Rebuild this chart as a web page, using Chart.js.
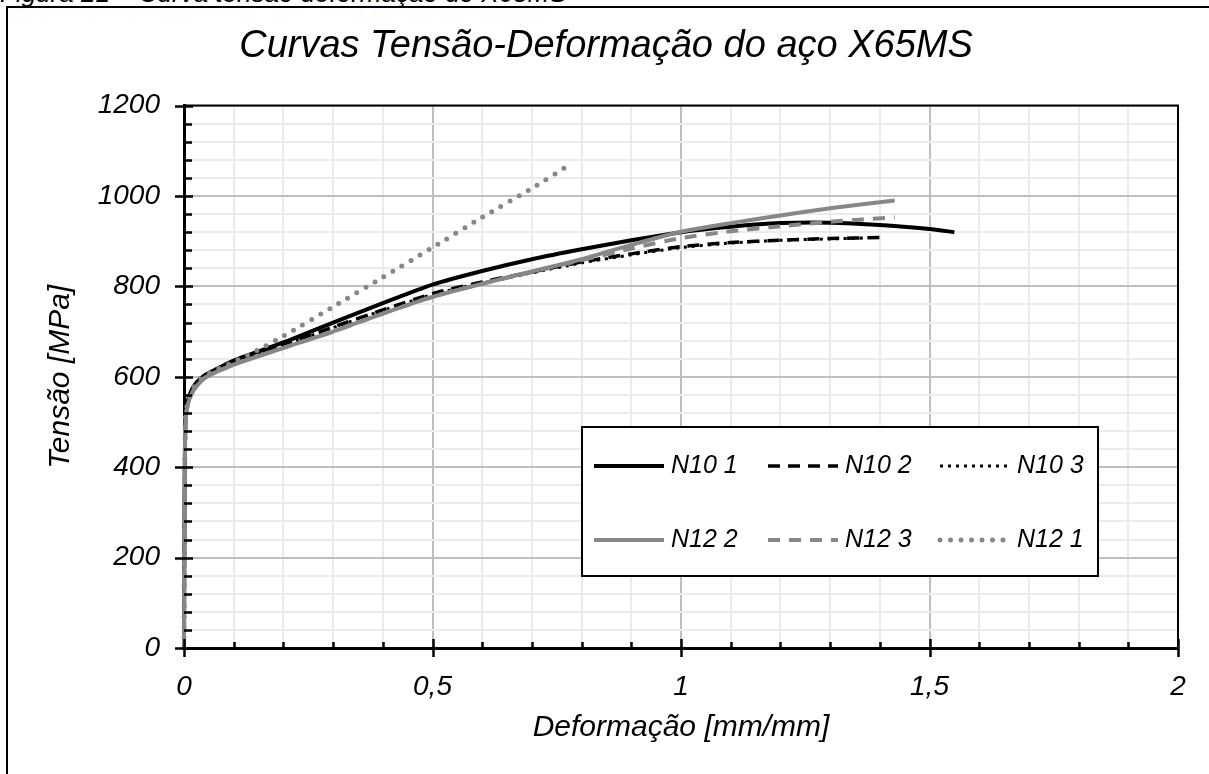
<!DOCTYPE html>
<html lang="pt">
<head>
    <meta charset="UTF-8">
    <title>Curvas Tensão-Deformação do aço X65MS</title>
    <script src="https://cdn.jsdelivr.net/npm/chart.js@4.4.0/dist/chart.umd.min.js"></script>
    <style>
        html, body { margin: 0; padding: 0; background: #fff; overflow: hidden; }
        body { width: 1209px; height: 774px; position: relative; }
        .caption { position: absolute; left: 0; top: -22px; line-height: 26px; font: italic 26px Arial, "Liberation Sans", sans-serif; color: #000; white-space: nowrap; }
        .frame { position: absolute; left: 6px; top: 6px; width: 1300px; height: 900px; border: 2px solid #000; }
        #chart { position: absolute; left: 0; top: 0; }
    </style>
</head>
<body>
    <div class="caption">Figura 21 – Curva tensão deformação do X65MS</div>
    <div class="frame"></div>
    <canvas id="chart" width="1209" height="774"></canvas>

    <script>
        // Dados (deformação em mm/mm, tensão em MPa)
        const seriesLabels = ['N10 1', 'N10 2', 'N10 3', 'N12 2', 'N12 3', 'N12 1'];

        const strainN10_1 = [0, 0.001, 0.003, 0.008, 0.02, 0.04, 0.06, 0.1, 0.2, 0.3, 0.4, 0.5, 0.6, 0.7, 0.8, 0.9, 1.0, 1.1, 1.2, 1.3, 1.4, 1.5, 1.55];
        const stressN10_1 = [0, 300, 512, 548, 580, 602, 614, 636, 676, 720, 763, 804, 834, 860, 882, 902, 920, 932, 940, 941, 936, 927, 920];

        const strainN10_2 = [0, 0.001, 0.003, 0.008, 0.02, 0.04, 0.06, 0.1, 0.2, 0.3, 0.4, 0.5, 0.6, 0.7, 0.8, 0.9, 1.0, 1.1, 1.2, 1.3, 1.4];
        const stressN10_2 = [0, 300, 510, 546, 578, 601, 613, 632, 670, 710, 748, 784, 810, 832, 854, 872, 888, 897, 902, 906, 908];

        const strainN10_3 = [0, 0.001, 0.003, 0.008, 0.02, 0.04, 0.06, 0.1, 0.2, 0.3, 0.4, 0.5, 0.6, 0.7, 0.8, 0.9, 1.0, 1.1, 1.2, 1.3, 1.37];
        const stressN10_3 = [0, 300, 510, 546, 578, 600, 612, 631, 669, 709, 747, 782, 808, 830, 852, 870, 886, 896, 902, 905, 907];

        const strainN12_2 = [0, 0.001, 0.003, 0.008, 0.02, 0.04, 0.06, 0.1, 0.2, 0.3, 0.4, 0.5, 0.6, 0.7, 0.8, 0.9, 1.0, 1.1, 1.2, 1.3, 1.43];
        const stressN12_2 = [0, 300, 505, 540, 572, 596, 608, 627, 664, 700, 740, 777, 806, 833, 860, 892, 921, 940, 957, 973, 990];

        const strainN12_3 = [0, 0.001, 0.003, 0.008, 0.02, 0.04, 0.06, 0.1, 0.2, 0.3, 0.4, 0.5, 0.6, 0.7, 0.8, 0.9, 1.0, 1.1, 1.2, 1.3, 1.43];
        const stressN12_3 = [0, 300, 505, 540, 572, 596, 608, 627, 664, 700, 740, 777, 806, 832, 858, 884, 907, 922, 933, 943, 953];

        const strainN12_1 = [0, 0.001, 0.003, 0.008, 0.02, 0.04, 0.06, 0.1, 0.15, 0.2, 0.3, 0.4, 0.5, 0.6, 0.7, 0.78];
        const stressN12_1 = [0, 300, 510, 546, 578, 601, 613, 633, 660, 690, 755, 820, 886, 953, 1017, 1072];

        const xTickMajor = [0, 0.5, 1, 1.5, 2];
        const yTickMajor = [0, 200, 400, 600, 800, 1000, 1200];

        const GRAY = '#878787';
        const FONT = 'Arial, "Liberation Sans", sans-serif';

        function toPoints(xs, ys) {
            return xs.map((x, i) => ({ x: x, y: ys[i] }));
        }

        const isMajorX = v => xTickMajor.some(m => Math.abs(m - v) < 1e-6);
        const isMajorY = v => yTickMajor.includes(Math.round(v));

        // eixos: moldura superior/direita e marcas em cruz / internas
        const frameTicks = {
            id: 'frameTicks',
            afterDatasetsDraw(chart) {
                const { ctx, chartArea: a, scales: { x, y } } = chart;
                ctx.save();
                ctx.strokeStyle = '#000';
                ctx.lineWidth = 2;
                ctx.beginPath();
                ctx.moveTo(a.left, a.top);
                ctx.lineTo(a.right, a.top);
                ctx.lineTo(a.right, a.bottom);
                ctx.stroke();

                ctx.lineWidth = 2.5;
                ctx.beginPath();
                y.ticks.forEach(t => {
                    const py = Math.round(y.getPixelForValue(t.value)) + 0.5;
                    if (isMajorY(t.value)) {
                        ctx.moveTo(a.left - 9, py); ctx.lineTo(a.left + 9, py);
                    } else {
                        ctx.moveTo(a.left, py); ctx.lineTo(a.left + 8, py);
                    }
                });
                x.ticks.forEach(t => {
                    const px = Math.round(x.getPixelForValue(t.value)) + 0.5;
                    if (isMajorX(t.value)) {
                        ctx.moveTo(px, a.bottom - 9); ctx.lineTo(px, a.bottom + 9);
                    } else {
                        ctx.moveTo(px, a.bottom); ctx.lineTo(px, a.bottom - 6);
                    }
                });
                ctx.stroke();
                ctx.restore();
            }
        };

        // legenda em caixa, 2 linhas x 3 colunas
        const boxLegend = {
            id: 'boxLegend',
            afterDraw(chart) {
                const ctx = chart.ctx;
                const box = { x: 582, y: 427, w: 516, h: 149 };
                const cols = [594, 768, 940];
                const rows = [466, 540];
                ctx.save();
                ctx.fillStyle = '#fff';
                ctx.fillRect(box.x, box.y, box.w, box.h);
                ctx.strokeStyle = '#000';
                ctx.lineWidth = 2;
                ctx.strokeRect(box.x, box.y, box.w, box.h);
                chart.data.datasets.forEach((ds, i) => {
                    const cx = cols[i % 3];
                    const cy = rows[Math.floor(i / 3)];
                    ctx.save();
                    ctx.strokeStyle = ds.borderColor;
                    ctx.lineWidth = ds.borderWidth;
                    ctx.lineCap = ds.borderCapStyle || 'butt';
                    ctx.setLineDash(ds.borderDash || []);
                    ctx.beginPath();
                    ctx.moveTo(cx, cy);
                    ctx.lineTo(cx + 70, cy);
                    ctx.stroke();
                    ctx.restore();
                    ctx.fillStyle = '#000';
                    ctx.font = 'italic 25px ' + FONT;
                    ctx.textBaseline = 'middle';
                    ctx.textAlign = 'left';
                    ctx.fillText(ds.label, cx + 77, cy);
                });
                ctx.restore();
            }
        };

        const styles = [
            { color: '#000', width: 4, dash: [], order: 2 },
            { color: '#000', width: 3.5, dash: [12, 8], order: 2 },
            { color: '#000', width: 3, dash: [3, 5], order: 2 },
            { color: GRAY, width: 4, dash: [], order: 1 },
            { color: GRAY, width: 4, dash: [12, 9], order: 1 },
            { color: GRAY, width: 5, dash: [0, 10.5], cap: 'round', order: 0 }
        ];
        const pointSets = [
            toPoints(strainN10_1, stressN10_1),
            toPoints(strainN10_2, stressN10_2),
            toPoints(strainN10_3, stressN10_3),
            toPoints(strainN12_2, stressN12_2),
            toPoints(strainN12_3, stressN12_3),
            toPoints(strainN12_1, stressN12_1)
        ];

        Chart.defaults.font.family = FONT;
        Chart.defaults.color = '#000';

        new Chart(document.getElementById('chart'), {
            type: 'scatter',
            data: {
                datasets: seriesLabels.map((label, i) => ({
                    label: label,
                    data: pointSets[i],
                    showLine: true,
                    pointRadius: 0,
                    borderColor: styles[i].color,
                    borderWidth: styles[i].width,
                    borderDash: styles[i].dash,
                    borderCapStyle: styles[i].cap || 'butt',
                    order: styles[i].order,
                    clip: 4,
                    tension: 0.2
                }))
            },
            options: {
                responsive: false,
                animation: false,
                devicePixelRatio: 1,
                layout: { padding: { left: 34, right: 31, top: 0, bottom: 0 } },
                plugins: {
                    legend: { display: false },
                    tooltip: { enabled: false },
                    title: {
                        display: true,
                        text: 'Curvas Tensão-Deformação do aço X65MS',
                        font: { size: 38, style: 'italic', weight: 'normal' },
                        color: '#000',
                        padding: { top: 24, bottom: 36 }
                    }
                },
                scales: {
                    x: {
                        type: 'linear',
                        min: 0,
                        max: 2,
                        afterFit: s => { s.height = 126; },
                        ticks: {
                            stepSize: 0.1,
                            autoSkip: false,
                            maxRotation: 0,
                            padding: 22,
                            font: { size: 28, style: 'italic' },
                            callback: v => isMajorX(v) ? String(Math.round(v * 10) / 10).replace('.', ',') : ''
                        },
                        grid: {
                            drawTicks: false,
                            lineWidth: 2,
                            color: c => isMajorX(c.tick.value) ? '#bfbfbf' : '#ebebeb'
                        },
                        border: { color: '#000', width: 3 },
                        title: {
                            display: true,
                            text: 'Deformação [mm/mm]',
                            font: { size: 30, style: 'italic' },
                            padding: { top: 0, bottom: 28 }
                        }
                    },
                    y: {
                        min: 0,
                        max: 1200,
                        afterFit: s => { s.width = 150; },
                        ticks: {
                            stepSize: 40,
                            autoSkip: false,
                            padding: 24,
                            font: { size: 28, style: 'italic' },
                            callback: v => isMajorY(v) ? v : ''
                        },
                        grid: {
                            drawTicks: false,
                            lineWidth: 2,
                            color: c => isMajorY(c.tick.value) ? '#bfbfbf' : '#ebebeb'
                        },
                        border: { color: '#000', width: 3 },
                        title: {
                            display: true,
                            text: 'Tensão [MPa]',
                            font: { size: 30, style: 'italic' },
                            padding: { top: 9, bottom: 0 }
                        }
                    }
                }
            },
            plugins: [frameTicks, boxLegend]
        });
    </script>
</body>
</html>
